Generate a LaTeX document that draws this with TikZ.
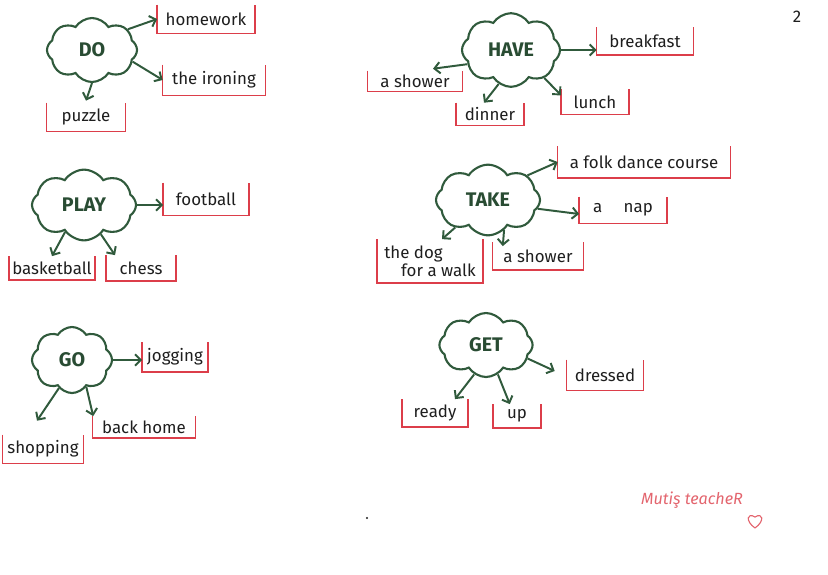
\documentclass[tikz,border=0pt]{standalone}
\usepackage{fontspec}
\setmainfont{Fira Sans}
\usetikzlibrary{shapes.symbols, arrows.meta}
\definecolor{leaf}{RGB}{48,90,60}
\definecolor{pen}{RGB}{220,62,74}
\definecolor{ink}{RGB}{30,30,30}

\begin{document}
\begin{tikzpicture}
  [
    x = 0.025cm, y = -0.025cm,
    verb/.style = {draw = leaf, line width = 1.5pt, cloud, cloud puffs = 8,
      cloud puff arc = 115, inner sep = 0pt, text = leaf!85!black,
      font = \fontsize{14}{14}\selectfont\bfseries},
    answer/.style = {inner sep = 1pt, text = ink, align = left,
      font = \fontsize{12}{12.5}\selectfont},
    link/.style = {draw = leaf, line width = 1.4pt,
      -{Straight Barb[length=4pt, width=8pt]}},
    frame/.style = {draw = pen, line width = 1.1pt}
  ]
  \useasboundingbox (0,0) rectangle (828,574);

  % clouds
  \node [verb, minimum width = 2.25cm, minimum height = 1.6cm] (do)   at (92,50)   {DO};
  \node [verb, minimum width = 2.45cm, minimum height = 1.75cm] (have) at (511,50) {HAVE};
  \node [verb, minimum width = 2.6cm, minimum height = 1.6cm] (play) at (84,205)  {PLAY};
  \node [verb, minimum width = 2.6cm, minimum height = 1.55cm] (take) at (488,200) {TAKE};
  \node [verb, minimum width = 2cm, minimum height = 1.65cm] (go)     at (72,360)  {GO};
  \node [verb, minimum width = 2.33cm, minimum height = 1.6cm] (get)  at (486,345) {GET};

  % answers
  \node [answer, minimum width = 2.43cm, minimum height = 0.7cm]  (homework) at (206,19)  {homework};
  \node [answer, minimum width = 2.55cm, minimum height = 0.75cm] (ironing)  at (214,80)  {the ironing};
  \node [answer, minimum width = 1.95cm, minimum height = 0.7cm]  (puzzle)   at (86,117)  {puzzle};

  \node [answer, minimum width = 2.4cm, minimum height = 0.68cm]  (breakfast) at (645,41) {breakfast};
  \node [answer, minimum width = 2.35cm, minimum height = 0.5cm]  (showerA)   at (415,81) {a shower};
  \node [answer, minimum width = 1.68cm, minimum height = 0.55cm] (dinner)    at (490,114) {dinner};
  \node [answer, minimum width = 1.68cm, minimum height = 0.62cm] (lunch)     at (595,102) {lunch};

  \node [answer, minimum width = 2.13cm, minimum height = 0.8cm]  (football)   at (206,199) {football};
  \node [answer, minimum width = 2.13cm, minimum height = 0.58cm] (basketball) at (52,268)  {basketball};
  \node [answer, minimum width = 1.73cm, minimum height = 0.63cm] (chess)      at (141,268) {chess};

  \node [answer, minimum width = 4.3cm, minimum height = 0.78cm]  (folk)     at (644,162) {a folk dance course};
  \node [answer, minimum width = 2.18cm, minimum height = 0.65cm] (nap)      at (623,210) {a \quad nap};
  \node [answer, minimum width = 2.63cm, minimum height = 1.08cm] (dog)      at (430,261) {the dog\\\quad for a walk};
  \node [answer, minimum width = 2.25cm, minimum height = 0.68cm] (showerB)  at (538,256) {a shower};

  \node [answer, minimum width = 1.63cm, minimum height = 0.73cm] (jogging)  at (175,357) {jogging};
  \node [answer, minimum width = 2.55cm, minimum height = 0.53cm] (backhome) at (144,427) {back home};
  \node [answer, minimum width = 2cm, minimum height = 0.7cm]     (shopping) at (43,449)  {shopping};

  \node [answer, minimum width = 1.9cm, minimum height = 0.75cm]  (dressed) at (605,375) {dressed};
  \node [answer, minimum width = 1.63cm, minimum height = 0.68cm] (ready)   at (435,413) {ready};
  \node [answer, minimum width = 1.18cm, minimum height = 0.58cm] (up)      at (517,416) {up};

  \foreach \n in {homework, ironing, puzzle, breakfast, showerA, dinner, lunch,
                  football, basketball, chess, folk, nap, dog, showerB,
                  jogging, backhome, shopping, dressed, ready, up}
    \draw [frame] (\n.north west) -- (\n.south west) -- (\n.south east) -- (\n.north east);

  % arrows
  \draw [link] (do.30)  -- (homework.west);
  \draw [link] (do.-16) -- (ironing.west);
  \draw [link] (do.south) -- ([yshift=0.05cm]puzzle.north);

  \draw [link] (have.east) -- (have.east -| breakfast.west);
  \draw [link] (have.198)  -- ([xshift=0.45cm, yshift=0.05cm]showerA.north);
  \draw [link] (have.250)  -- ([xshift=-0.15cm]dinner.north);
  \draw [link] (have.-40)  -- ([yshift=-0.15cm]lunch.north west);

  \draw [link] (play.east) -- (play.east -| football.west);
  \draw [link] (play.235)  -- (basketball.north);
  \draw [link] (play.300)  -- ([xshift=-0.65cm]chess.north);

  \draw [link] (take.32)  -- (folk.west);
  \draw [link] (take.-10) -- ([yshift=-0.1cm]nap.west);
  \draw [link] (take.220) -- ([xshift=0.3cm]dog.north);
  \draw [link] (take.-62) -- ([xshift=-0.88cm, yshift=-0.1cm]showerB.north);

  \draw [link] (go.east) -- (go.east -| jogging.west);
  \draw [link] (go.245)  -- ([xshift=-0.15cm, yshift=0.35cm]shopping.north);
  \draw [link] (go.-62)  -- ([xshift=-1.27cm]backhome.north);

  \draw [link] (get.-18)  -- ([xshift=-0.3cm, yshift=0.1cm]dressed.west);
  \draw [link] (get.-112) -- ([xshift=0.5cm]ready.north);
  \draw [link] (get.-68)  -- ([xshift=-0.18cm]up.north);

  % page number, signature
  \node [text = ink, font = \fontsize{12}{12}\selectfont] (page) at (797,17) {2};
  \node [text = pen!80, font = \itshape\fontsize{11.5}{11.5}\selectfont] (sign) at (692,500) {Mutiş teacheR};
  \draw [pen!80, line width = 0.8pt] (755,528) .. controls (745,521) and (747,512) .. (755,517)
    .. controls (763,512) and (765,521) .. (755,528);
  \fill [ink] (367,518) circle (1.2);
\end{tikzpicture}
\end{document}
